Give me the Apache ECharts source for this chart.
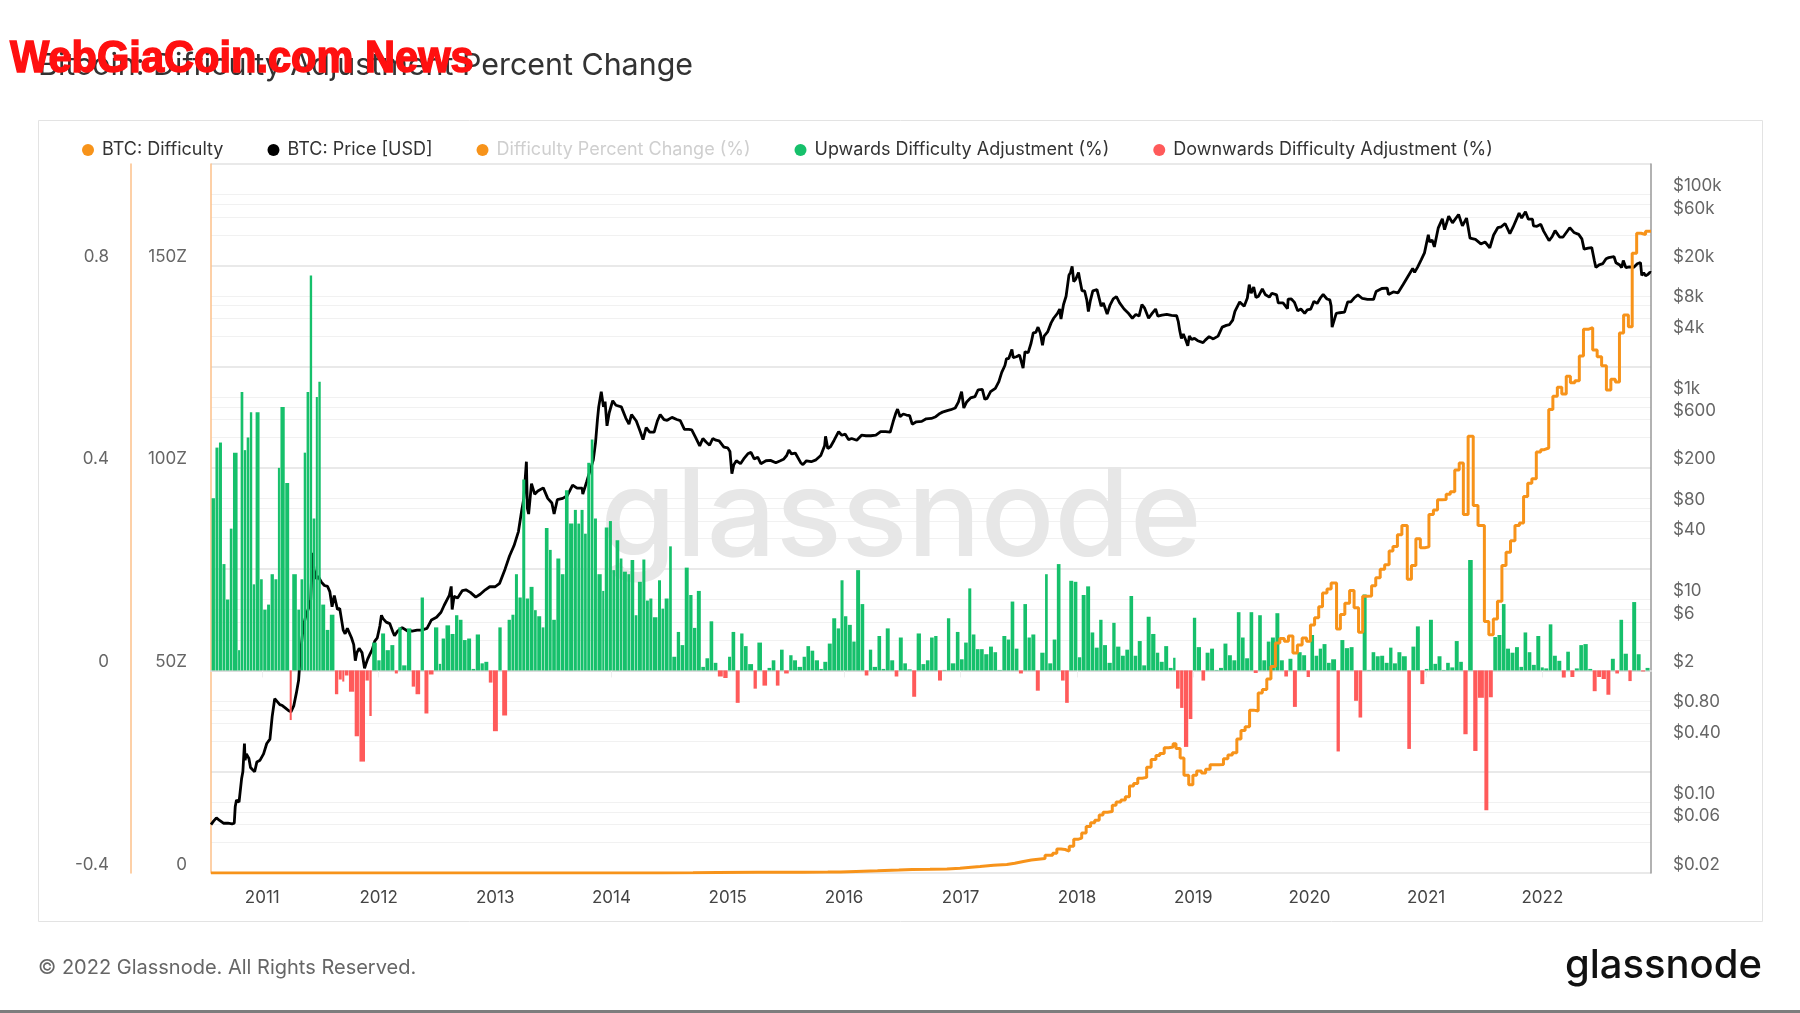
<!DOCTYPE html>
<html><head><meta charset="utf-8">
<script src="https://cdn.jsdelivr.net/npm/echarts@6/dist/echarts.min.js"></script>
<style>html,body{margin:0;padding:0;background:#fff}#chart{width:1800px;height:1013px}</style>
</head><body><div id="chart"></div>
<script>
const titleText = 'Bitcoin: Difficulty Adjustment Percent Change';
const pctTicks = [-0.4, 0, 0.4, 0.8];
const diffTicks = [0, 50, 100, 150];
const priceLabelTicks = [0.02,0.06,0.1,0.4,0.8,2,6,10,40,80,200,600,1000,4000,8000,20000,60000,100000];
const priceGridTicks = [0.04,0.06,0.08,0.1,0.4,0.6,0.8,1,4,6,8,10,40,60,80,100,400,600,800,1000,4000,6000,8000,10000,40000,60000,80000,100000];
const xStart = '2010-07-24';
const xEnd = '2022-12-08';
const lastAdjEnd = '2022-12-05';

// difficulty adjustments: [start date, fractional change]
const adjustments = [
['2010-07-26',0.34],['2010-08-07',0.44],['2010-08-18',0.45],['2010-08-29',0.21],['2010-09-09',0.14],['2010-09-21',0.28],['2010-10-01',0.43],['2010-10-17',0.04],['2010-10-25',0.55],['2010-11-04',0.435],['2010-11-13',0.46],['2010-11-23',0.51],['2010-12-02',0.17],['2010-12-11',0.51],['2010-12-25',0.18],['2011-01-04',0.12],['2011-01-16',0.13],['2011-01-27',0.19],['2011-02-08',0.18],['2011-02-19',0.40],['2011-02-27',0.52],['2011-03-14',0.37],['2011-03-28',-0.098],['2011-04-05',0.19],['2011-04-21',0.12],['2011-05-01',0.18],['2011-05-11',0.43],['2011-05-20',0.55],['2011-05-30',0.78],['2011-06-08',0.30],['2011-06-18',0.54],['2011-06-26',0.57],['2011-07-05',0.13],['2011-07-19',0.08],['2011-08-01',0.11],
['2011-08-17',-0.047],['2011-08-29',-0.018],['2011-09-09',-0.022],['2011-09-17',-0.01],['2011-09-30',-0.042],['2011-10-18',-0.13],['2011-11-02',-0.18],['2011-11-21',-0.02],['2011-12-03',-0.09],['2011-12-12',0.055],['2011-12-28',0.02],['2012-01-09',0.073],['2012-01-23',0.04],['2012-02-07',0.05],['2012-02-21',-0.006],['2012-03-03',0.085],['2012-03-15',0.01],['2012-03-30',0.083],['2012-04-14',-0.032],['2012-04-26',-0.047],['2012-05-12',0.144],['2012-05-24',-0.085],['2012-06-07',-0.008],['2012-06-23',0.085],['2012-07-08',0.013],['2012-07-17',0.063],['2012-07-29',0.089],['2012-08-14',0.072],['2012-08-28',0.109],['2012-09-09',0.10],['2012-09-22',0.06],['2012-10-05',0.063],['2012-10-19',0.003],['2012-11-01',0.071],['2012-11-16',0.014],['2012-11-28',0.017],['2012-12-12',-0.024],['2012-12-25',-0.12],
['2013-01-11',0.085],['2013-01-23',-0.089],['2013-02-09',0.10],['2013-02-21',0.11],['2013-03-04',0.19],['2013-03-15',0.144],['2013-03-27',0.377],['2013-04-07',0.142],['2013-04-19',0.165],['2013-05-03',0.119],['2013-05-13',0.107],['2013-05-27',0.085],['2013-06-06',0.281],['2013-06-19',0.238],['2013-06-29',0.10],['2013-07-12',0.221],['2013-07-26',0.19],['2013-08-08',0.356],['2013-08-21',0.29],['2013-09-05',0.317],['2013-09-16',0.29],['2013-09-26',0.317],['2013-10-07',0.27],['2013-10-17',0.41],['2013-10-28',0.456],['2013-11-07',0.30],['2013-11-18',0.19],['2013-12-03',0.157],['2013-12-11',0.282],['2013-12-24',0.295],
['2014-01-04',0.198],['2014-01-14',0.257],['2014-01-27',0.221],['2014-02-06',0.195],['2014-02-20',0.19],['2014-03-02',0.218],['2014-03-15',0.109],['2014-03-25',0.175],['2014-04-08',0.219],['2014-04-19',0.138],['2014-04-30',0.142],['2014-05-11',0.105],['2014-05-27',0.178],['2014-06-07',0.122],['2014-06-17',0.142],['2014-07-01',0.245],['2014-07-11',0.027],['2014-07-25',0.076],['2014-08-06',0.05],['2014-08-19',0.203],['2014-09-02',0.149],['2014-09-14',0.084],['2014-09-26',0.157],['2014-10-10',0.007],['2014-10-23',0.024],['2014-11-05',0.097],['2014-11-18',0.015],['2014-12-01',-0.012],['2014-12-18',-0.015],
['2015-01-02',0.027],['2015-01-13',0.076],['2015-01-26',-0.064],['2015-02-09',0.073],['2015-02-21',0.048],['2015-03-06',0.0125],['2015-03-23',-0.036],['2015-04-04',0.055],['2015-04-20',-0.03],['2015-05-06',0.005],['2015-05-19',0.02],['2015-06-01',-0.03],['2015-06-14',0.041],['2015-06-27',-0.006],['2015-07-13',0.03],['2015-07-25',0.02],['2015-08-08',0.007],['2015-08-24',0.027],['2015-09-05',0.048],['2015-09-18',0.039],['2015-10-01',0.02],['2015-10-16',0.003],['2015-10-28',0.017],['2015-11-11',0.053],['2015-11-25',0.103],['2015-12-09',0.083],['2015-12-21',0.178],
['2016-01-01',0.107],['2016-01-13',0.09],['2016-01-27',0.057],['2016-02-08',0.198],['2016-02-22',0.131],['2016-03-06',-0.01],['2016-03-19',0.041],['2016-03-31',0.007],['2016-04-15',0.068],['2016-04-28',0.003],['2016-05-11',0.083],['2016-05-25',0.02],['2016-06-08',-0.012],['2016-06-21',0.065],['2016-07-05',0.014],['2016-07-18',0.002],['2016-08-02',-0.052],['2016-08-16',0.073],['2016-08-31',0.0125],['2016-09-14',0.02],['2016-09-27',0.065],['2016-10-10',0.068],['2016-10-22',-0.02],['2016-11-05',0.001],['2016-11-19',0.103],['2016-12-01',0.014],['2016-12-17',0.076],['2016-12-30',0.022],
['2017-01-12',0.055],['2017-01-25',0.162],['2017-02-05',0.071],['2017-02-18',0.042],['2017-03-03',0.042],['2017-03-16',0.032],['2017-03-31',0.047],['2017-04-14',0.036],['2017-04-27',0.001],['2017-05-12',0.068],['2017-05-26',0.061],['2017-06-07',0.136],['2017-06-20',0.043],['2017-07-03',-0.006],['2017-07-17',0.131],['2017-07-30',0.065],['2017-08-11',0.071],['2017-08-25',-0.04],['2017-09-08',0.035],['2017-09-23',0.19],['2017-10-03',0.014],['2017-10-17',0.061],['2017-10-30',0.21],['2017-11-12',-0.02],['2017-11-25',-0.064],['2017-12-08',0.177],['2017-12-22',0.175],
['2018-01-04',0.026],['2018-01-16',0.149],['2018-01-30',0.166],['2018-02-13',0.075],['2018-02-26',0.045],['2018-03-12',0.1],['2018-03-24',0.05],['2018-04-07',0.015],['2018-04-22',0.094],['2018-05-04',0.047],['2018-05-19',0.029],['2018-06-02',0.041],['2018-06-15',0.147],['2018-06-28',0.029],['2018-07-11',0.058],['2018-07-25',0.01],['2018-08-08',0.106],['2018-08-22',0.072],['2018-09-06',0.035],['2018-09-18',0.017],['2018-10-02',0.048],['2018-10-16',0.005],['2018-10-30',0.025],['2018-11-08',-0.036],['2018-11-21',-0.074],['2018-12-03',-0.151],['2018-12-18',-0.096],['2018-12-31',0.104],
['2019-01-12',0.046],['2019-01-27',-0.02],['2019-02-09',0.035],['2019-02-23',0.043],['2019-03-09',0.001],['2019-03-23',0.005],['2019-04-06',0.053],['2019-04-20',0.03],['2019-05-04',0.02],['2019-05-18',0.115],['2019-05-31',0.065],['2019-06-13',0.024],['2019-06-27',0.115],['2019-07-10',-0.005],['2019-07-24',0.109],['2019-08-06',0.02],['2019-08-20',0.057],['2019-09-02',0.065],['2019-09-16',0.113],['2019-09-30',0.02],['2019-10-14',-0.012],['2019-10-27',0.023],['2019-11-10',-0.072],['2019-11-24',0.036],['2019-12-09',0.03],['2019-12-23',-0.013],
['2020-01-04',0.07],['2020-01-17',0.029],['2020-01-30',0.043],['2020-02-11',0.052],['2020-02-25',0.015],['2020-03-09',0.022],['2020-03-26',-0.16],['2020-04-07',0.06],['2020-04-21',0.044],['2020-05-06',0.046],['2020-05-20',-0.06],['2020-06-03',-0.093],['2020-06-16',0.15],['2020-06-30',0.001],['2020-07-14',0.036],['2020-07-27',0.028],['2020-08-10',0.029],['2020-08-24',0.015],['2020-09-07',0.045],['2020-09-19',0.014],['2020-10-03',0.036],['2020-10-17',0.028],['2020-11-03',-0.155],['2020-11-16',0.047],['2020-11-30',0.087],['2020-12-14',-0.027],['2020-12-28',0.003],
['2021-01-10',0.1],['2021-01-24',0.013],['2021-02-06',0.028],['2021-02-20',0.001],['2021-03-05',0.015],['2021-03-18',0.006],['2021-04-01',0.058],['2021-04-15',0.017],['2021-04-28',-0.126],['2021-05-13',0.218],['2021-05-29',-0.159],['2021-06-13',-0.054],['2021-07-03',-0.276],['2021-07-17',-0.053],['2021-07-31',0.066],['2021-08-13',0.07],['2021-08-27',0.131],['2021-09-09',0.043],['2021-09-23',0.035],['2021-10-07',0.046],['2021-10-21',0.007],['2021-11-03',0.075],['2021-11-16',0.036],['2021-11-29',0.011],['2021-12-13',0.068],['2021-12-27',0.006],
['2022-01-07',0.004],['2022-01-21',0.091],['2022-02-03',0.029],['2022-02-17',0.019],['2022-03-03',-0.014],['2022-03-17',0.037],['2022-03-30',-0.013],['2022-04-13',0.004],['2022-04-27',0.05],['2022-05-10',0.052],['2022-05-25',0.003],['2022-06-08',-0.041],['2022-06-22',-0.013],['2022-07-06',-0.017],['2022-07-21',-0.048],['2022-08-04',0.023],['2022-08-18',-0.006],['2022-08-31',0.1],['2022-09-13',0.033],['2022-09-28',-0.021],['2022-10-10',0.135],['2022-10-24',0.032],['2022-11-07',-0.002],['2022-11-21',0.005]
];

// BTC difficulty (axis units "Z"), value in force from each date
const difficulty = [
['2010-07-24',0],['2012-06-01',0.001],['2013-06-01',0.002],['2013-12-01',0.004],['2014-03-02',0.01],['2014-06-07',0.05],['2014-09-14',0.1],['2014-12-01',0.17],['2015-04-04',0.2],['2015-08-24',0.22],['2015-11-11',0.27],['2015-12-21',0.4],['2016-02-08',0.55],['2016-04-15',0.72],['2016-06-21',0.85],['2016-08-02',0.92],['2016-09-27',1.0],['2016-11-19',1.15],['2016-12-30',1.35],['2017-01-25',1.6],['2017-03-03',1.9],['2017-04-14',2.1],['2017-05-26',2.4],['2017-06-20',2.85],['2017-07-17',3.2],['2017-08-11',3.6],['2017-09-23',4.4],['2017-10-17',4.9],['2017-10-30',5.9],['2017-11-12',5.8],['2017-11-25',5.4],['2017-12-08',6.6],['2017-12-22',8.3],
['2018-01-04',8.6],['2018-01-16',9.9],['2018-01-30',11.5],['2018-02-13',12.4],['2018-02-26',13.0],['2018-03-12',14.3],['2018-03-24',15.0],['2018-04-07',15.2],['2018-04-22',16.7],['2018-05-04',17.5],['2018-05-19',18.0],['2018-06-02',18.8],['2018-06-15',21.5],['2018-06-28',22.1],['2018-07-11',23.4],['2018-07-25',23.6],['2018-08-08',26.1],['2018-08-22',28.0],['2018-09-06',29.0],['2018-09-18',29.5],['2018-10-02',30.9],['2018-10-16',31.1],['2018-10-30',31.9],['2018-11-08',30.7],['2018-11-21',28.4],['2018-12-03',24.1],['2018-12-18',21.8],['2018-12-31',24.1],
['2019-01-12',25.2],['2019-01-27',24.7],['2019-02-09',25.6],['2019-02-23',26.7],['2019-03-09',26.7],['2019-03-23',26.8],['2019-04-06',28.2],['2019-04-20',29.1],['2019-05-04',29.7],['2019-05-18',33.1],['2019-05-31',35.2],['2019-06-13',36.1],['2019-06-27',40.2],['2019-07-10',40.0],['2019-07-24',44.4],['2019-08-06',45.3],['2019-08-20',47.9],['2019-09-02',51.0],['2019-09-16',56.8],['2019-09-30',57.9],['2019-10-14',57.2],['2019-10-27',58.5],['2019-11-10',54.3],['2019-11-24',56.3],['2019-12-09',58.0],['2019-12-23',57.2],
['2020-01-04',61.2],['2020-01-17',63.0],['2020-01-30',65.7],['2020-02-11',69.1],['2020-02-25',70.1],['2020-03-09',71.6],['2020-03-26',60.2],['2020-04-07',63.8],['2020-04-21',66.6],['2020-05-06',69.7],['2020-05-20',65.5],['2020-06-03',59.4],['2020-06-16',68.3],['2020-06-30',68.4],['2020-07-14',70.9],['2020-07-27',72.9],['2020-08-10',75.0],['2020-08-24',76.1],['2020-09-07',79.5],['2020-09-19',80.6],['2020-10-03',83.5],['2020-10-17',85.8],['2020-11-03',72.5],['2020-11-16',75.9],['2020-11-30',82.5],['2020-12-14',80.3],['2020-12-28',80.5],
['2021-01-10',88.5],['2021-01-24',89.6],['2021-02-06',92.1],['2021-02-20',92.2],['2021-03-05',93.5],['2021-03-18',94.1],['2021-04-01',99.5],['2021-04-15',101.2],['2021-04-28',88.5],['2021-05-13',107.8],['2021-05-29',90.7],['2021-06-13',85.8],['2021-07-03',62.1],['2021-07-17',58.8],['2021-07-31',62.7],['2021-08-13',67.1],['2021-08-27',75.9],['2021-09-09',79.2],['2021-09-23',82.0],['2021-10-07',85.8],['2021-10-21',86.4],['2021-11-03',92.9],['2021-11-16',96.2],['2021-11-29',97.3],['2021-12-13',103.9],['2021-12-27',104.5],
['2022-01-07',104.9],['2022-01-21',114.4],['2022-02-03',117.7],['2022-02-17',119.9],['2022-03-03',118.2],['2022-03-17',122.6],['2022-03-30',121.0],['2022-04-13',121.5],['2022-04-27',127.6],['2022-05-10',134.2],['2022-05-25',134.6],['2022-06-08',129.1],['2022-06-22',127.4],['2022-07-06',125.2],['2022-07-21',119.2],['2022-08-04',121.9],['2022-08-18',121.2],['2022-08-31',133.3],['2022-09-13',137.7],['2022-09-28',134.8],['2022-10-10',153.0],['2022-10-24',157.9],['2022-11-07',157.6],['2022-11-21',158.4],['2022-12-08',158.4]
];

// BTC price in USD
const price = [
['2010-07-24',0.06],['2010-08-01',0.065],['2010-08-10',0.07],['2010-08-20',0.066],['2010-09-01',0.062],['2010-09-15',0.062],['2010-09-28',0.061],['2010-10-05',0.062],['2010-10-08',0.09],['2010-10-12',0.105],['2010-10-20',0.1],['2010-10-28',0.17],['2010-11-01',0.2],['2010-11-06',0.38],['2010-11-08',0.26],['2010-11-12',0.3],['2010-11-20',0.27],['2010-11-25',0.22],['2010-12-01',0.21],['2010-12-08',0.2],['2010-12-15',0.25],['2010-12-25',0.26],
['2011-01-05',0.3],['2011-01-15',0.38],['2011-01-25',0.42],['2011-02-01',0.7],['2011-02-09',1.05],['2011-02-15',1.0],['2011-02-25',0.92],['2011-03-05',0.9],['2011-03-15',0.85],['2011-03-25',0.8],['2011-04-01',0.78],['2011-04-10',0.9],['2011-04-18',1.2],['2011-04-25',1.6],['2011-05-01',3.0],['2011-05-10',5.5],['2011-05-18',7.0],['2011-05-28',8.5],['2011-06-02',10],['2011-06-08',29],['2011-06-12',20],['2011-06-20',16],['2011-06-25',17],['2011-07-05',15],['2011-07-15',13.8],['2011-07-25',13.5],['2011-08-01',12],['2011-08-08',8.5],['2011-08-15',11],['2011-08-20',10.8],['2011-08-25',8],['2011-09-01',8.2],['2011-09-08',6],['2011-09-12',5],['2011-09-18',4.6],['2011-09-25',5.2],['2011-10-01',5],['2011-10-08',4.2],['2011-10-15',3.6],['2011-10-20',2.5],['2011-10-25',3.0],['2011-11-01',3.3],['2011-11-10',3.0],['2011-11-18',2.1],['2011-11-22',2.3],['2011-11-28',2.6],['2011-12-05',2.9],['2011-12-12',3.2],['2011-12-20',3.9],['2011-12-28',4.2],
['2012-01-05',5.5],['2012-01-10',7.0],['2012-01-15',6.5],['2012-01-25',6.0],['2012-02-05',5.8],['2012-02-15',4.8],['2012-02-20',4.4],['2012-03-01',4.9],['2012-03-15',5.3],['2012-04-01',4.9],['2012-04-15',4.9],['2012-05-01',5.0],['2012-05-15',5.0],['2012-06-01',5.2],['2012-06-15',6.3],['2012-07-01',6.7],['2012-07-15',7.5],['2012-07-25',8.8],['2012-08-10',11],['2012-08-16',13.5],['2012-08-19',8.0],['2012-08-25',10.8],['2012-09-05',10.4],['2012-09-20',12.3],['2012-10-01',12.5],['2012-10-15',11.8],['2012-11-01',10.6],['2012-11-15',11.3],['2012-12-01',12.5],['2012-12-15',13.4],
['2013-01-01',13.4],['2013-01-15',14.5],['2013-02-01',20],['2013-02-15',27],['2013-03-01',34],['2013-03-15',47],['2013-03-25',75],['2013-04-01',100],['2013-04-09',230],['2013-04-12',80],['2013-04-16',70],['2013-04-25',140],['2013-05-05',110],['2013-05-15',118],['2013-06-01',127],['2013-06-15',100],['2013-06-28',90],['2013-07-05',70],['2013-07-15',97],['2013-08-01',100],['2013-08-15',106],['2013-09-01',135],['2013-09-15',126],['2013-10-01',126],['2013-10-03',110],['2013-10-15',145],['2013-10-25',185],['2013-11-05',240],['2013-11-12',355],['2013-11-18',600],['2013-11-22',800],['2013-11-30',1130],['2013-12-07',800],['2013-12-12',900],['2013-12-18',520],['2013-12-25',700],
['2014-01-05',920],['2014-01-15',830],['2014-02-01',800],['2014-02-15',620],['2014-02-25',540],['2014-03-05',670],['2014-03-20',580],['2014-04-01',460],['2014-04-10',380],['2014-04-20',500],['2014-05-01',450],['2014-05-15',450],['2014-05-25',580],['2014-06-03',670],['2014-06-15',600],['2014-06-25',590],['2014-07-10',630],['2014-07-25',600],['2014-08-05',585],['2014-08-18',480],['2014-09-01',480],['2014-09-10',475],['2014-09-22',400],['2014-10-05',330],['2014-10-15',390],['2014-10-25',360],['2014-11-05',335],['2014-11-15',390],['2014-11-25',375],['2014-12-05',370],['2014-12-20',320],
['2015-01-01',315],['2015-01-08',290],['2015-01-14',175],['2015-01-20',215],['2015-01-28',235],['2015-02-10',220],['2015-02-20',245],['2015-03-05',275],['2015-03-15',285],['2015-03-25',245],['2015-04-05',255],['2015-04-15',220],['2015-05-01',235],['2015-05-15',237],['2015-06-01',225],['2015-06-15',235],['2015-06-25',243],['2015-07-05',265],['2015-07-12',300],['2015-07-20',275],['2015-08-01',280],['2015-08-18',225],['2015-08-25',215],['2015-09-05',235],['2015-09-20',230],['2015-10-05',240],['2015-10-20',265],['2015-11-01',330],['2015-11-04',410],['2015-11-11',310],['2015-11-20',325],['2015-12-01',375],['2015-12-15',455],['2015-12-25',420],
['2016-01-05',430],['2016-01-15',380],['2016-01-25',390],['2016-02-10',375],['2016-02-25',420],['2016-03-10',415],['2016-03-25',415],['2016-04-10',420],['2016-04-25',455],['2016-05-10',455],['2016-05-25',450],['2016-06-03',570],['2016-06-12',700],['2016-06-17',760],['2016-06-25',640],['2016-07-05',680],['2016-07-15',665],['2016-07-25',655],['2016-08-02',540],['2016-08-15',570],['2016-09-01',575],['2016-09-15',610],['2016-10-01',615],['2016-10-15',640],['2016-10-28',690],['2016-11-05',710],['2016-11-20',735],['2016-12-01',750],['2016-12-15',780],['2016-12-25',890],
['2017-01-04',1130],['2017-01-11',780],['2017-01-20',895],['2017-02-01',980],['2017-02-15',1010],['2017-02-25',1180],['2017-03-10',1190],['2017-03-18',950],['2017-03-25',970],['2017-04-05',1130],['2017-04-20',1220],['2017-05-01',1420],['2017-05-10',1750],['2017-05-20',2050],['2017-05-25',2400],['2017-06-01',2400],['2017-06-11',2950],['2017-06-15',2450],['2017-06-25',2500],['2017-07-05',2600],['2017-07-16',1930],['2017-07-22',2800],['2017-08-01',2750],['2017-08-10',3400],['2017-08-17',4300],['2017-08-25',4350],['2017-09-01',4900],['2017-09-08',4300],['2017-09-15',3250],['2017-09-20',4000],['2017-10-01',4400],['2017-10-12',5400],['2017-10-20',6000],['2017-11-01',6700],['2017-11-08',7400],['2017-11-12',5900],['2017-11-20',8200],['2017-11-28',9900],['2017-12-07',16000],['2017-12-12',17000],['2017-12-17',19500],['2017-12-22',13800],['2017-12-28',14500],
['2018-01-06',17000],['2018-01-10',14500],['2018-01-17',11200],['2018-01-25',11200],['2018-02-01',9100],['2018-02-06',7000],['2018-02-12',8900],['2018-02-20',11200],['2018-03-05',11500],['2018-03-18',7900],['2018-03-25',8500],['2018-04-06',6600],['2018-04-15',8100],['2018-04-25',9300],['2018-05-05',9800],['2018-05-15',8500],['2018-05-29',7400],['2018-06-10',6800],['2018-06-24',6000],['2018-07-05',6550],['2018-07-15',6300],['2018-07-24',8200],['2018-08-01',7600],['2018-08-14',6000],['2018-08-25',6700],['2018-09-05',7400],['2018-09-12',6300],['2018-09-25',6450],['2018-10-10',6550],['2018-10-25',6400],['2018-11-10',6350],['2018-11-15',5600],['2018-11-20',4500],['2018-11-25',3800],['2018-12-01',4200],['2018-12-10',3550],['2018-12-15',3200],['2018-12-20',4000],['2018-12-27',3700],
['2019-01-05',3800],['2019-01-15',3600],['2019-02-01',3450],['2019-02-08',3650],['2019-02-20',3950],['2019-03-05',3750],['2019-03-20',4000],['2019-04-02',4900],['2019-04-15',5100],['2019-04-25',5200],['2019-05-05',5750],['2019-05-12',7000],['2019-05-17',7300],['2019-05-27',8700],['2019-06-10',7900],['2019-06-20',9500],['2019-06-26',12900],['2019-07-02',10600],['2019-07-10',12200],['2019-07-17',9600],['2019-07-25',9900],['2019-08-06',11700],['2019-08-15',10300],['2019-08-28',9700],['2019-09-05',10600],['2019-09-20',10200],['2019-09-25',8500],['2019-10-10',8500],['2019-10-24',7450],['2019-10-26',9250],['2019-11-05',9300],['2019-11-15',8600],['2019-11-25',7100],['2019-12-05',7400],['2019-12-17',6700],['2019-12-25',7250],
['2020-01-05',7400],['2020-01-15',8800],['2020-01-25',8400],['2020-02-05',9600],['2020-02-13',10300],['2020-02-25',9300],['2020-03-05',9100],['2020-03-09',7900],['2020-03-12',4900],['2020-03-16',5000],['2020-03-25',6700],['2020-04-05',6800],['2020-04-20',6900],['2020-04-30',8700],['2020-05-10',8700],['2020-05-20',9500],['2020-06-01',10200],['2020-06-15',9400],['2020-07-01',9200],['2020-07-20',9200],['2020-07-28',11000],['2020-08-15',11800],['2020-09-01',11900],['2020-09-05',10300],['2020-09-20',10900],['2020-10-05',10700],['2020-10-21',12900],['2020-11-05',15500],['2020-11-20',18600],['2020-11-26',17000],['2020-12-05',19100],['2020-12-17',22800],['2020-12-27',26500],
['2021-01-08',40000],['2021-01-12',34000],['2021-01-20',35500],['2021-01-27',30400],['2021-02-08',46500],['2021-02-21',57500],['2021-02-28',45000],['2021-03-13',61000],['2021-03-25',52500],['2021-04-13',63500],['2021-04-25',49000],['2021-05-08',58500],['2021-05-19',37000],['2021-05-25',38500],['2021-06-05',36000],['2021-06-22',32500],['2021-07-05',34000],['2021-07-20',29800],['2021-08-01',39800],['2021-08-14',47000],['2021-08-25',48000],['2021-09-06',51700],['2021-09-21',41000],['2021-10-01',47500],['2021-10-20',65500],['2021-10-28',58500],['2021-11-09',67500],['2021-11-18',57000],['2021-12-01',57000],['2021-12-04',49000],['2021-12-15',48500],['2021-12-27',50700],
['2022-01-05',43500],['2022-01-22',35000],['2022-02-01',38500],['2022-02-10',44000],['2022-02-24',38000],['2022-03-07',38000],['2022-03-28',47000],['2022-04-10',42200],['2022-04-25',40400],['2022-05-05',36500],['2022-05-12',28900],['2022-05-25',29500],['2022-06-05',29900],['2022-06-13',22400],['2022-06-18',19000],['2022-06-28',20200],['2022-07-10',20800],['2022-07-20',23200],['2022-07-28',23800],['2022-08-14',24300],['2022-08-20',21200],['2022-09-01',20100],['2022-09-07',19000],['2022-09-12',22300],['2022-09-20',19000],['2022-10-01',19300],['2022-10-15',19100],['2022-10-26',20700],['2022-11-05',21300],['2022-11-09',15900],['2022-11-15',16900],['2022-11-21',15800],['2022-11-28',16200],['2022-12-05',17100],['2022-12-08',16900]
];

const C_ORANGE = '#f7931a', C_GREEN = '#16c06b', C_RED = '#ff5a5a';
const FONT = 'Inter, "Noto Sans", sans-serif';
const YEAR_MS = 365 * 24 * 3600 * 1000;

// bars span from each adjustment to the next one
const barRows = adjustments.map((a, i) => [a[0], i + 1 < adjustments.length ? adjustments[i + 1][0] : lastAdjEnd, a[1]]);
const upRows = barRows.filter(r => r[2] >= 0);
const downRows = barRows.filter(r => r[2] < 0);

function barRender(color) {
  return function (params, api) {
    const p0 = api.coord([api.value(0), 0]);
    const p1 = api.coord([api.value(1), api.value(2)]);
    const w = Math.max(p1[0] - p0[0] - 0.5, 0.8);
    return {
      type: 'rect',
      shape: { x: p0[0], y: Math.min(p0[1], p1[1]), width: w, height: Math.abs(p1[1] - p0[1]) },
      style: { fill: color }
    };
  };
}
function fmtPrice(v) {
  if (v >= 1000) return '$' + Math.round(v / 1000) + 'k';
  if (v >= 1) return '$' + Math.round(v);
  return '$' + v.toFixed(2);
}

const chart = echarts.init(document.getElementById('chart'), null, { renderer: 'canvas' });
chart.setOption({
  animation: false,
  backgroundColor: '#fff',
  textStyle: { fontFamily: FONT },
  legend: {
    left: 77, top: 136, itemWidth: 18, itemHeight: 12, itemGap: 44, icon: 'circle',
    textStyle: { fontSize: 18, color: '#333', fontFamily: FONT },
    data: [
      { name: 'BTC: Difficulty' },
      { name: 'BTC: Price [USD]' },
      { name: 'Difficulty Percent Change (%)', textStyle: { color: '#cfcfcf' }, itemStyle: { color: C_ORANGE, opacity: 1 } },
      { name: 'Upwards Difficulty Adjustment (%)' },
      { name: 'Downwards Difficulty Adjustment (%)' }
    ]
  },
  grid: { left: 211, right: 149, top: 164, bottom: 140, containLabel: false },
  xAxis: {
    type: 'time', min: xStart, max: xEnd, splitNumber: 12, minInterval: YEAR_MS, maxInterval: YEAR_MS * 1.01,
    axisLine: { show: true, lineStyle: { color: '#dcdcdc', width: 2 } },
    axisTick: { show: true, length: 7, lineStyle: { color: '#eeeeee' } },
    axisLabel: { formatter: '{yyyy}', color: '#444', fontSize: 17, margin: 16, fontFamily: FONT, hideOverlap: false },
    splitLine: { show: false }
  },
  yAxis: [
    { type: 'value', position: 'left', offset: 80, min: -0.4, max: 1.0, interval: 0.2,
      axisLine: { show: true, lineStyle: { color: '#fcc18a', width: 1.5 } },
      axisTick: { show: false },
      axisLabel: { customValues: pctTicks, formatter: v => String(Math.round(v * 10) / 10), color: '#666', fontSize: 17, margin: 22, verticalAlign: 'bottom', fontFamily: FONT },
      splitLine: { show: true, lineStyle: { color: '#e2e2e2', width: 1.5 } } },
    { type: 'value', position: 'left', offset: 0, min: 0, max: 175, interval: 25,
      axisLine: { show: true, lineStyle: { color: '#fcc18a', width: 1.5 } },
      axisTick: { show: false },
      axisLabel: { customValues: diffTicks, formatter: v => v === 0 ? '0' : v + 'Z', color: '#666', fontSize: 17, margin: 24, verticalAlign: 'bottom', fontFamily: FONT },
      splitLine: { show: false } },
    { type: 'log', logBase: 10, position: 'right', min: 0.02, max: 200000,
      axisLine: { show: true, lineStyle: { color: '#999', width: 1.5 } },
      axisTick: { show: false, customValues: priceGridTicks },
      axisLabel: { customValues: priceLabelTicks, formatter: fmtPrice, color: '#666', fontSize: 17, margin: 22, verticalAlign: 'bottom', fontFamily: FONT },
      splitLine: { show: true, lineStyle: { color: '#f1f1f1', width: 1 } } }
  ],
  series: [
    { name: 'BTC: Difficulty', type: 'line', step: 'end', xAxisIndex: 0, yAxisIndex: 1, data: difficulty,
      showSymbol: false, color: C_ORANGE, lineStyle: { color: C_ORANGE, width: 3 }, z: 5 },
    { name: 'BTC: Price [USD]', type: 'line', xAxisIndex: 0, yAxisIndex: 2, data: price,
      showSymbol: false, color: '#000', lineStyle: { color: '#000', width: 2.8 }, z: 2 },
    { name: 'Difficulty Percent Change (%)', type: 'line', xAxisIndex: 0, yAxisIndex: 0, data: adjustments,
      showSymbol: false, silent: true, color: C_ORANGE, lineStyle: { opacity: 0 }, z: 1 },
    { name: 'Upwards Difficulty Adjustment (%)', type: 'custom', xAxisIndex: 0, yAxisIndex: 0,
      dimensions: [{ name: 'start', type: 'time' }, { name: 'end', type: 'time' }, { name: 'pct', type: 'number' }],
      encode: { x: [0, 1], y: 2 }, data: upRows, renderItem: barRender(C_GREEN), color: C_GREEN, itemStyle: { color: C_GREEN }, z: 3 },
    { name: 'Downwards Difficulty Adjustment (%)', type: 'custom', xAxisIndex: 0, yAxisIndex: 0,
      dimensions: [{ name: 'start', type: 'time' }, { name: 'end', type: 'time' }, { name: 'pct', type: 'number' }],
      encode: { x: [0, 1], y: 2 }, data: downRows, renderItem: barRender(C_RED), color: C_RED, itemStyle: { color: C_RED }, z: 3 }
  ],
  graphic: [
    { type: 'rect', silent: true, z: 0, shape: { x: 38.5, y: 120.5, width: 1724, height: 801 }, style: { fill: 'none', stroke: '#e3e3e3', lineWidth: 1 } },
    { type: 'text', silent: true, z: 1, x: 901, y: 519, style: { text: 'glassnode', font: '500 122px Inter, sans-serif', fill: '#e7e7e7', align: 'center', verticalAlign: 'middle' } },
    { type: 'text', silent: true, z: 10, x: 38, y: 66, style: { text: titleText, font: '400 30.4px Inter, sans-serif', fill: '#333', verticalAlign: 'middle' } },
    { type: 'text', silent: true, z: 100, x: 10, y: 60, scaleX: 0.945, style: { text: 'WebGiaCoin.com News', font: 'bold 44px "Liberation Sans", Arial, sans-serif', fill: '#ff1010', stroke: '#ff1010', lineWidth: 1.5, verticalAlign: 'middle' } },
    { type: 'text', silent: true, z: 10, x: 38, y: 968, style: { text: '© 2022 Glassnode. All Rights Reserved.', font: '400 20px Inter, sans-serif', fill: '#666', verticalAlign: 'middle' } },
    { type: 'text', silent: true, z: 10, x: 1762, y: 966, style: { text: 'glassnode', font: '500 40px Inter, sans-serif', fill: '#111', align: 'right', verticalAlign: 'middle' } },
    { type: 'rect', silent: true, z: 10, shape: { x: 0, y: 1010, width: 1800, height: 3 }, style: { fill: '#7d7d7d' } }
  ]
});
</script></body></html>
